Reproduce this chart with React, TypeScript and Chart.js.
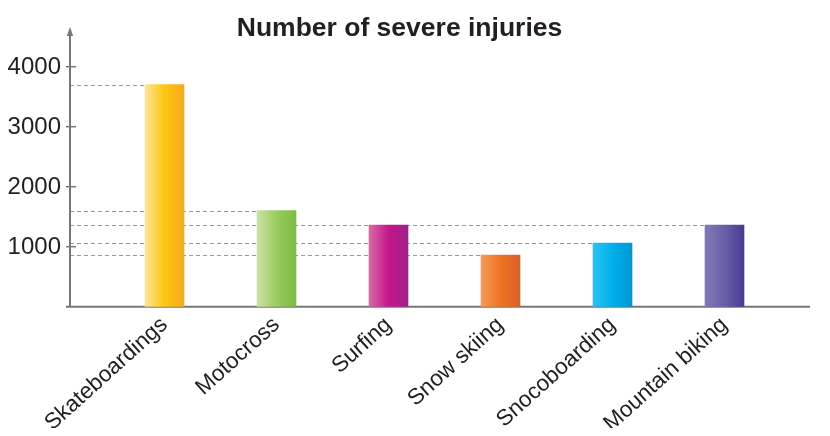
import React, { useEffect, useRef } from "react";
import { Chart, registerables } from "chart.js";

Chart.register(...registerables);

const chartTitle = "Number of severe injuries";
const categories = [
  "Skateboardings",
  "Motocross",
  "Surfing",
  "Snow skiing",
  "Snocoboarding",
  "Mountain biking",
];
const injuries = [3700, 1600, 1360, 860, 1060, 1360];
const yTicks = [1000, 2000, 3000, 4000];
const gradientStops = [
  ["#FDE49A", "#FCC70F", "#F7AA1C"],
  ["#CDE3A5", "#9ACB5E", "#7BBC43"],
  ["#D76AA8", "#C5168A", "#A1208C"],
  ["#F49A57", "#F07421", "#D9602B"],
  ["#2AC3F2", "#00B0EA", "#0096D6"],
  ["#8079B8", "#6760A8", "#473A94"],
];

const FONT = "'Liberation Sans', Arial, Helvetica, sans-serif";
const AXIS_COLOR = "#777777";
const TEXT_COLOR = "#231F20";
const BAR_W = 39;
const AXIS_X = 62;

const decorPlugin = {
  id: "decor",
  beforeDatasetsDraw(chart: any) {
    const ctx = chart.ctx as CanvasRenderingContext2D;
    const y = chart.scales.y;
    const x = chart.scales.x;
    const y0 = y.getPixelForValue(0);
    ctx.save();
    // dashed guide lines
    ctx.strokeStyle = "#9a9a9a";
    ctx.lineWidth = 1.2;
    ctx.setLineDash([4, 3]);
    injuries.forEach((v, i) => {
      const py = Math.round(y.getPixelForValue(v)) + 0.5;
      const left = x.getPixelForValue(i) - BAR_W / 2;
      ctx.beginPath();
      ctx.moveTo(AXIS_X, py);
      ctx.lineTo(left, py);
      ctx.stroke();
    });
    ctx.setLineDash([]);
    // axes
    ctx.strokeStyle = AXIS_COLOR;
    ctx.lineWidth = 2;
    ctx.beginPath();
    ctx.moveTo(AXIS_X, y0);
    ctx.lineTo(AXIS_X, 26);
    ctx.stroke();
    ctx.beginPath();
    ctx.moveTo(AXIS_X - 4, y0);
    ctx.lineTo(802, y0);
    ctx.stroke();
    // arrow
    ctx.fillStyle = AXIS_COLOR;
    ctx.beginPath();
    ctx.moveTo(AXIS_X, 19);
    ctx.lineTo(AXIS_X - 3.2, 28);
    ctx.lineTo(AXIS_X + 3.2, 28);
    ctx.closePath();
    ctx.fill();
    // y ticks and labels
    ctx.lineWidth = 1.5;
    ctx.font = `24px ${FONT}`;
    ctx.fillStyle = TEXT_COLOR;
    ctx.textAlign = "right";
    ctx.textBaseline = "middle";
    yTicks.forEach((t) => {
      const py = y.getPixelForValue(t);
      ctx.beginPath();
      ctx.moveTo(AXIS_X - 4, py);
      ctx.lineTo(AXIS_X + 6, py);
      ctx.stroke();
      ctx.fillText(String(t), AXIS_X - 9, py + 1);
    });
    // title
    ctx.font = `bold 26.5px ${FONT}`;
    ctx.textAlign = "center";
    ctx.textBaseline = "alphabetic";
    ctx.fillText(chartTitle, 391.5, 28);
    ctx.restore();
  },
};

export default function App() {
  const ref = useRef<HTMLCanvasElement | null>(null);
  useEffect(() => {
    if (!ref.current) return;
    const chart = new Chart(ref.current, {
      type: "bar",
      data: {
        labels: categories,
        datasets: [
          {
            data: injuries,
            barThickness: BAR_W,
            borderWidth: 0,
            backgroundColor: (c: any) => {
              const ch = c.chart;
              const i = c.dataIndex ?? 0;
              const stops = gradientStops[i % gradientStops.length];
              if (!ch.chartArea || !ch.scales?.x) return stops[1];
              const cx = ch.scales.x.getPixelForValue(i);
              const g = ch.ctx.createLinearGradient(cx - BAR_W / 2, 0, cx + BAR_W / 2, 0);
              g.addColorStop(0, stops[0]);
              g.addColorStop(0.5, stops[1]);
              g.addColorStop(1, stops[2]);
              return g;
            },
          },
        ],
      },
      options: {
        animation: false,
        responsive: true,
        maintainAspectRatio: false,
        layout: { padding: { left: 100.5, right: 41.5, top: 58.7, bottom: 0 } },
        plugins: {
          legend: { display: false },
          title: { display: false },
          tooltip: { enabled: false },
        },
        scales: {
          x: {
            grid: { display: false, drawTicks: false },
            border: { display: false },
            ticks: {
              autoSkip: false,
              minRotation: 42,
              maxRotation: 42,
              padding: 5,
              color: TEXT_COLOR,
              font: { family: FONT, size: 22.5 },
            },
            afterFit: (s: any) => {
              s.height = 121.3;
            },
          },
          y: {
            display: false,
            min: 0,
            max: 4000,
          },
        },
      },
      plugins: [decorPlugin],
    });
    return () => chart.destroy();
  }, []);
  return (
    <div style={{ position: "relative", width: 814, height: 420 }}>
      <canvas ref={ref} />
    </div>
  );
}
